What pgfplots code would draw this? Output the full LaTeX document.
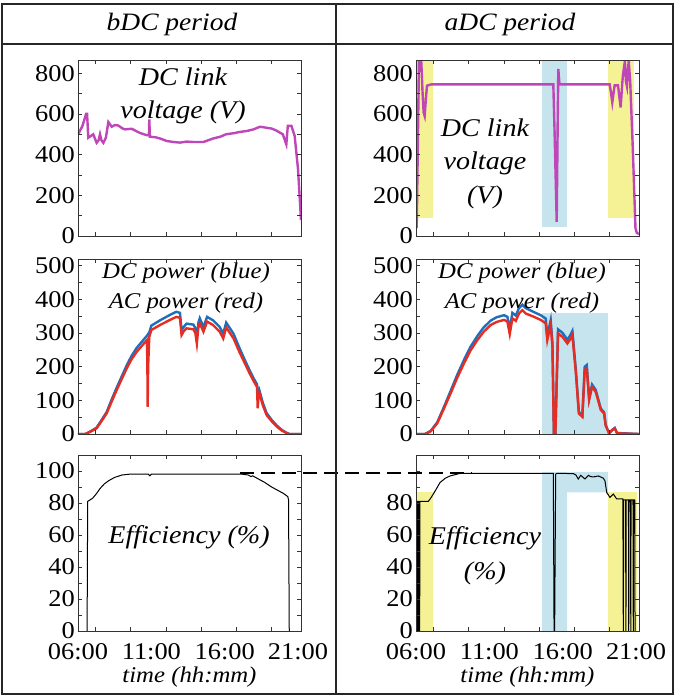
\documentclass[border=0pt]{standalone}
\usepackage{fontspec}
\setmainfont{Liberation Serif}[FakeStretch=1.1]
\usepackage{pgfplots}
\pgfplotsset{compat=1.18}

\definecolor{mag}{RGB}{190,70,185}
\definecolor{dcb}{RGB}{30,110,190}
\definecolor{acr}{RGB}{230,45,35}
\definecolor{yel}{RGB}{245,242,150}
\definecolor{lbl}{RGB}{198,228,237}

\newcommand\tl{\fontsize{24}{24}\selectfont}
\newcommand\an{\fontsize{25.5}{25.5}\selectfont\itshape}
\newcommand\pw{\fontsize{22.5}{22.5}\selectfont\itshape}

\pgfplotsset{
  panel/.style={
    scale only axis, width=223pt, anchor=south west,
    xmin=6, xmax=21.2,
    axis on top,
    axis line style={draw=black!80, line width=0.8pt},
    tick align=inside,
    tick style={black!80, line width=0.7pt},
    major tick length=4pt, minor tick length=4pt,
    xtick={7.2,9.6,12,14.4,16.8,19.2}, xticklabel=\empty,
    ticklabel style={font=\tl},
    yticklabel style={inner sep=3pt},
    /pgf/number format/assume math mode=true,
  },
  volt/.style={panel, height=176pt, ymin=0, ymax=865,
    ytick={0,200,...,800}, minor ytick={100,300,500,700}},
  pow/.style={panel, height=175pt, ymin=0, ymax=520,
    ytick={0,100,...,500}, minor ytick={50,150,...,450}},
  eff/.style={panel, height=176pt, ymin=0, ymax=110,
    minor ytick={10,30,...,90},
    extra x ticks={6,11,16,21},
    extra x tick labels={06:00,11:00,16:00,21:00},
    extra x tick style={major tick length=0pt},
    xticklabel style={inner sep=1pt, yshift=-11pt},
    xlabel={time (hh:mm)},
    xlabel style={font=\fontsize{22.5}{22.5}\selectfont\itshape, inner sep=0pt,
      at={(axis description cs:0.5,0)}, anchor=center, yshift=-46pt}},
}

\begin{document}
\begin{tikzpicture}
\useasboundingbox (0pt,0pt) rectangle (685pt,697pt);

% ---------- top row: DC link voltage ----------
\begin{axis}[volt, at={(78pt,461pt)}]
\addplot[mag, line width=2.4pt] coordinates {
(6.0,499) (6.3,540) (6.55,600) (6.62,600) (6.7,483) (6.85,490) (7.04,500)
(7.27,458) (7.4,470) (7.5,500) (7.6,470) (7.73,458) (7.9,483) (8.07,560)
(8.3,537) (8.5,545) (8.75,543) (9.0,530) (9.2,524) (9.66,527) (10.2,507)
(10.7,495) (10.83,495) (10.86,573) (10.9,488) (11.3,485) (11.6,479)
(12.05,467) (12.5,462) (12.95,459) (13.4,464) (13.87,462) (14.55,462)
(15.2,479) (15.7,488) (16.1,500) (16.6,505) (17.0,511) (17.5,516)
(17.96,524) (18.4,537) (18.86,532) (19.2,528) (19.5,519) (19.96,500)
(20.2,450) (20.3,541) (20.55,541) (20.77,491) (21.0,326) (21.2,78)};
\end{axis}

\begin{axis}[volt, at={(416pt,461pt)}]
\addplot[draw=none, fill=yel] coordinates {(6,90) (7.15,90) (7.15,865) (6,865)} -- cycle;
\addplot[draw=none, fill=yel] coordinates {(19.09,90) (20.85,90) (20.85,865) (19.09,865)} -- cycle;
\addplot[draw=none, fill=lbl] coordinates {(14.6,42) (16.3,42) (16.3,865) (14.6,865)} -- cycle;
\addplot[mag, line width=2.4pt] coordinates {
(6.0,45) (6.05,45) (6.2,855) (6.36,855) (6.45,700) (6.52,607) (6.59,590)
(6.68,680) (6.75,739) (7.04,745) (15.36,745) (15.45,500) (15.59,70)
(15.65,500) (15.7,821) (15.78,745) (19.2,745) (19.3,700) (19.38,657)
(19.46,700) (19.54,740) (19.77,740) (19.85,690) (19.95,632) (20.05,740)
(20.1,788) (20.24,860) (20.31,760) (20.38,735) (20.45,820) (20.5,860)
(20.6,760) (20.78,425) (20.96,38) (21.05,15) (21.2,10)};
\end{axis}

% ---------- middle row: DC / AC power ----------
\begin{axis}[pow, at={(78pt,263pt)}]
\addplot[dcb, line width=2.4pt] coordinates {
(6.0,0) (6.5,0) (6.9,9) (7.27,19) (7.6,41) (7.95,65) (8.3,103) (8.64,138)
(9.0,173) (9.32,204) (9.65,232) (10.0,256) (10.35,274) (10.7,292)
(10.86,302) (11.0,322) (11.6,338) (12.27,354) (12.7,363) (12.95,360)
(13.06,308) (13.2,318) (13.4,328) (13.87,325) (14.0,314) (14.1,282)
(14.2,330) (14.3,344) (14.55,318) (14.8,348) (15.2,338) (15.66,318)
(15.9,298) (16.1,331) (16.6,298) (17.0,256) (17.35,222) (17.7,189)
(18.0,163) (18.2,148) (18.3,118) (18.37,129) (18.6,92) (18.86,62)
(19.2,42) (19.55,25) (19.9,12) (20.2,4) (20.4,0) (21.2,0)};
\addplot[acr, line width=2.4pt] coordinates {
(6.0,0) (6.52,0) (6.9,8) (7.27,17) (7.6,38) (7.95,61) (8.3,97) (8.64,131)
(9.0,165) (9.32,195) (9.65,222) (10.0,244) (10.35,262) (10.7,279)
(10.73,200) (10.75,81) (10.78,200) (10.86,289) (11.0,309) (11.6,324)
(12.27,339) (12.7,348) (12.95,345) (13.06,294) (13.2,305) (13.4,314)
(13.87,311) (14.0,300) (14.1,269) (14.2,315) (14.3,329) (14.55,304)
(14.8,334) (15.2,324) (15.66,304) (15.9,284) (16.1,317) (16.6,284)
(17.0,244) (17.35,212) (17.7,180) (18.0,155) (18.2,140) (18.25,76)
(18.3,110) (18.37,121) (18.6,85) (18.86,56) (19.2,38) (19.55,22)
(19.9,10) (20.2,3) (20.4,0) (21.2,0)};
\end{axis}

\begin{axis}[pow, at={(416pt,263pt)}]
\addplot[draw=none, fill=lbl] coordinates {(14.6,0) (19.09,0) (19.09,360) (14.6,360)} -- cycle;
\addplot[dcb, line width=2.4pt] coordinates {
(6.0,0) (6.6,0) (7.0,9) (7.45,35) (7.9,80) (8.36,128) (8.8,175) (9.27,220)
(9.7,258) (10.18,291) (10.6,316) (11.09,337) (11.5,347) (12.0,353)
(12.23,348) (12.39,312) (12.57,360) (12.8,352) (13.02,374) (13.25,384)
(13.48,374) (14.05,362) (14.5,353) (14.84,343) (14.95,292) (15.18,338)
(15.3,270) (15.4,0) (15.5,0) (15.68,311) (15.98,301) (16.32,280)
(16.55,296) (16.66,306) (16.9,188) (17.1,66) (17.34,55) (17.5,200)
(17.64,205) (17.8,106) (18.0,147) (18.25,131) (18.6,75) (18.82,65)
(18.93,27) (19.16,3) (19.39,13) (19.55,18) (19.7,3) (21.2,0)};
\addplot[acr, line width=2.4pt] coordinates {
(6.0,0) (6.65,0) (7.0,8) (7.45,32) (7.9,75) (8.36,121) (8.8,166) (9.27,210)
(9.7,247) (10.18,279) (10.6,303) (11.09,324) (11.5,333) (12.0,339)
(12.23,334) (12.39,297) (12.57,344) (12.8,336) (13.02,358) (13.25,368)
(13.48,358) (14.05,348) (14.5,339) (14.84,329) (14.95,279) (15.18,325)
(15.3,259) (15.4,0) (15.5,0) (15.68,299) (15.98,289) (16.32,269)
(16.55,284) (16.66,294) (16.9,180) (17.1,61) (17.34,51) (17.5,190)
(17.64,195) (17.8,101) (18.0,140) (18.25,125) (18.6,71) (18.82,61)
(18.93,25) (19.16,2) (19.39,12) (19.55,17) (19.7,2) (21.2,0)};
\end{axis}

% ---------- bottom row: efficiency ----------
\begin{axis}[eff, at={(78pt,66pt)}, ytick={0,20,...,100}]
\addplot[black, line width=1pt] coordinates {
(6.62,0) (6.66,81) (7.0,83) (7.27,86) (7.5,89) (7.8,92) (8.1,94) (8.5,96)
(9.0,97.5) (9.5,98) (10.8,98) (10.9,97) (11.0,98) (17.2,98) (17.6,97.5)
(17.8,96.5) (17.9,97) (18.2,95.5) (18.7,93) (19.2,90) (19.6,88) (20.0,86)
(20.3,84) (20.35,82) (20.4,0)};
\coordinate (d1) at (axis cs:17.04,98.5);
\end{axis}

\begin{axis}[eff, at={(416pt,66pt)}, ytick={0,20,...,80},
  extra y ticks={100}, extra y tick labels={}]
\addplot[draw=none, fill=yel] coordinates {(6,0) (7.16,0) (7.16,86.6) (6,86.6)} -- cycle;
\addplot[draw=none, fill=yel] coordinates {(19.09,0) (21.07,0) (21.07,86.6) (19.09,86.6)} -- cycle;
\addplot[draw=none, fill=lbl] coordinates {(14.6,0) (16.3,0) (16.3,86.6) (19.09,86.6) (19.09,99.5) (14.6,99.5)} -- cycle;
\addplot[black, line width=1pt] coordinates {
(6.02,0) (6.03,81) (6.08,81) (6.09,0) (6.12,0) (6.13,81) (6.2,81) (6.22,0)
(6.25,0) (6.27,81) (6.84,81) (7.0,83) (7.18,85.6) (7.4,89) (7.64,92.8)
(8.0,95.5) (8.32,96.9) (9.0,98.5) (15.36,98.5) (15.41,0) (15.45,0)
(15.52,98) (15.59,98.5) (16.72,98.4) (16.9,97.5) (17.06,95) (17.23,97.3)
(17.52,95) (17.75,97.3) (17.9,96.5) (18.09,96.3) (18.43,96.9) (18.77,95.5)
(18.88,93.8) (19.0,86.6) (19.22,83.5) (19.45,85.6) (19.68,82.5)
(20.02,82.5) (20.1,82.5) (20.13,0) (20.16,82) (20.28,82) (20.31,0)
(20.33,82) (20.48,82) (20.5,0) (20.52,82) (20.62,82) (20.64,0) (20.66,82)
(20.79,82) (20.81,0) (20.83,82) (20.91,82) (20.93,0)};
\coordinate (d2) at (axis cs:9.8,98.5);
\end{axis}

\draw[black, line width=2pt, dash pattern=on 14pt off 7pt] (d1) -- (d2);

% ---------- frame and headers ----------
\draw[black!85, line width=1.2pt] (2pt,3pt) rectangle (673pt,693pt);
\draw[black!85, line width=1.2pt] (2pt,653pt) -- (673pt,653pt);
\draw[black!85, line width=1.2pt] (336pt,3pt) -- (336pt,693pt);
\node[font=\fontsize{25}{25}\selectfont\itshape] at (172pt,673pt) {bDC period};
\node[font=\fontsize{25}{25}\selectfont\itshape] at (510pt,673pt) {aDC period};

% ---------- panel annotations ----------
\node[font=\an] at (183pt,620pt) {DC link};
\node[font=\an] at (183pt,585pt) {voltage (V)};
\node[font=\an] at (485pt,569pt) {DC link};
\node[font=\an] at (485pt,534pt) {voltage};
\node[font=\an] at (485pt,500pt) {(V)};
\node[font=\pw] at (186pt,424pt) {DC power (blue)};
\node[font=\pw] at (186pt,394pt) {AC power (red)};
\node[font=\pw] at (522pt,424pt) {DC power (blue)};
\node[font=\pw] at (522pt,394pt) {AC power (red)};
\node[font=\an] at (189pt,160pt) {Efficiency (\%)};
\node[font=\an] at (485pt,159pt) {Efficiency};
\node[font=\an] at (485pt,124pt) {(\%)};
\end{tikzpicture}
\end{document}
